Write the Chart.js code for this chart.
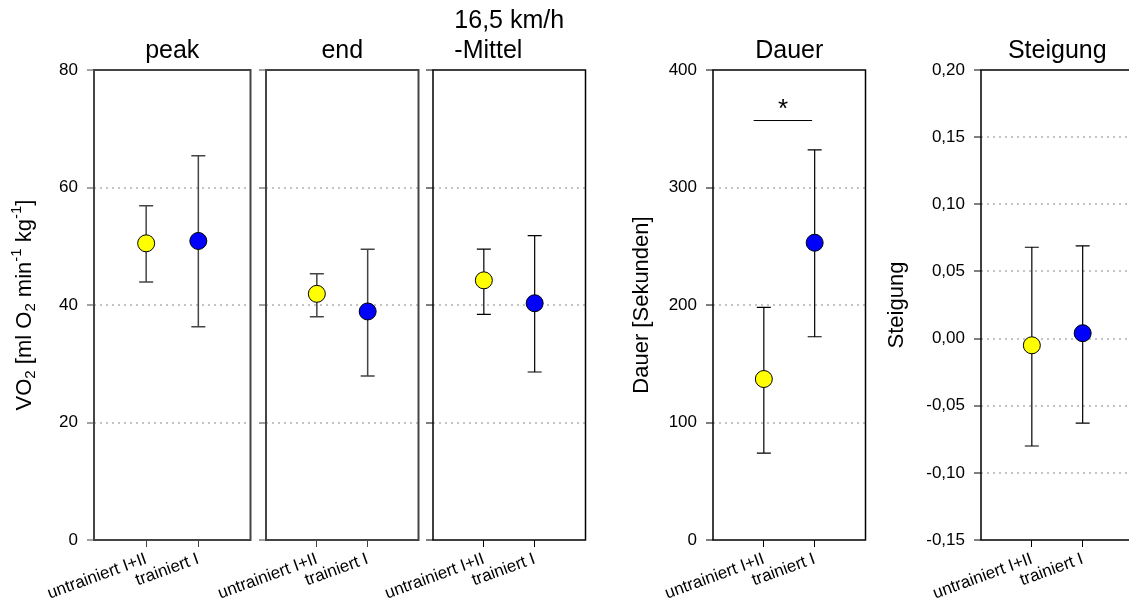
<!DOCTYPE html>
<html>
<head>
<meta charset="utf-8">
<script src="https://cdn.jsdelivr.net/npm/chart.js@4.4.0/dist/chart.umd.min.js"></script>
<style>
  html, body { margin: 0; padding: 0; background: #fff; }
  #wrap { position: relative; width: 1129px; height: 608px; overflow: hidden; }
  #wrap canvas { position: absolute; top: 0; }
</style>
</head>
<body>
<div id="wrap">
  <canvas id="peak"></canvas>
  <canvas id="end"></canvas>
  <canvas id="mittel"></canvas>
  <canvas id="dauer"></canvas>
  <canvas id="steigung"></canvas>
</div>
<script>
// Data
const categories = ['untrainiert I+II', 'trainiert I'];
const pointColors = ['#ffff00', '#0000ff'];

const peakMean = [50.5, 50.9];
const peakLow = [43.9, 36.3];
const peakHigh = [56.9, 65.4];

const endMean = [41.9, 38.9];
const endLow = [38.0, 27.9];
const endHigh = [45.3, 49.5];

const mittelMean = [44.2, 40.3];
const mittelLow = [38.4, 28.6];
const mittelHigh = [49.5, 51.8];

const dauerMean = [137, 253];
const dauerLow = [74, 173];
const dauerHigh = [198, 332];

const steigungMean = [-0.005, 0.004];
const steigungLow = [-0.080, -0.063];
const steigungHigh = [0.068, 0.069];

const vo2Ticks = [0, 20, 40, 60, 80];
const dauerTicks = [0, 100, 200, 300, 400];
const steigungTicks = [-0.15, -0.10, -0.05, 0, 0.05, 0.10, 0.15, 0.20];

// significance marker in the Dauer panel
const sigBarX = [0.8, 1.95];
const sigBarY = 357;
const sigStar = [1.38, 373];

const FONT = '"Liberation Sans", Arial, Helvetica, sans-serif';
Chart.defaults.font.family = FONT;
Chart.defaults.color = '#000';

// vertical error bars with caps, drawn under the markers
const errorBars = {
    id: 'errorBars',
    beforeDatasetsDraw(chart, args, opts) {
        const ctx = chart.ctx;
        const xs = chart.scales.x, ys = chart.scales.y;
        chart.data.datasets.forEach(ds => {
            if (!ds.errLow) return;
            ds.data.forEach((p, i) => {
                const x = xs.getPixelForValue(p.x);
                const yl = ys.getPixelForValue(ds.errLow[i]);
                const yh = ys.getPixelForValue(ds.errHigh[i]);
                ctx.save();
                ctx.strokeStyle = opts.color;
                ctx.lineWidth = opts.width;
                ctx.beginPath();
                ctx.moveTo(x, yl); ctx.lineTo(x, yh);
                ctx.moveTo(x - 7, yl); ctx.lineTo(x + 7, yl);
                ctx.moveTo(x - 7, yh); ctx.lineTo(x + 7, yh);
                ctx.stroke();
                ctx.restore();
            });
        });
    }
};

// box round the plot area, panel titles, y titles, star
const panelText = {
    id: 'panelText',
    afterDraw(chart, args, opts) {
        const ctx = chart.ctx, a = chart.chartArea;
        ctx.save();
        ctx.strokeStyle = opts.ink;
        ctx.lineWidth = opts.frame;
        ctx.strokeRect(a.left, a.top, a.right - a.left, a.bottom - a.top);

        ctx.fillStyle = '#000';
        ctx.font = '25px ' + FONT;
        ctx.textAlign = 'left';
        ctx.textBaseline = 'alphabetic';
        const lines = opts.title;
        const w = Math.max(...lines.map(l => ctx.measureText(l).width));
        const cx = (a.left + a.right) / 2;
        lines.forEach((l, i) => {
            ctx.fillText(l, cx - w / 2, 58 - (lines.length - 1 - i) * 30);
        });

        if (opts.yTitle) {
            const big = '22px ' + FONT, small = '15px ' + FONT;
            const shift = { n: 0, sub: 6, sup: -8 };
            let total = 0;
            opts.yTitle.forEach(([t, k]) => {
                ctx.font = k === 'n' ? big : small;
                total += ctx.measureText(t).width;
            });
            ctx.translate(a.left + opts.yTitleOffset, (a.top + a.bottom) / 2);
            ctx.rotate(-Math.PI / 2);
            ctx.textBaseline = 'middle';
            let x = -total / 2;
            opts.yTitle.forEach(([t, k]) => {
                ctx.font = k === 'n' ? big : small;
                ctx.fillText(t, x, shift[k]);
                x += ctx.measureText(t).width;
            });
            ctx.setTransform(1, 0, 0, 1, 0, 0);
        }

        if (opts.star) {
            ctx.font = '26px ' + FONT;
            ctx.textAlign = 'center';
            ctx.textBaseline = 'alphabetic';
            const sx = chart.scales.x.getPixelForValue(opts.star[0]);
            const sy = chart.scales.y.getPixelForValue(opts.star[1]);
            ctx.fillText('*', sx, sy + 15);
        }
        ctx.restore();
    }
};

function makePanel(id, o) {
    const canvas = document.getElementById(id);
    canvas.width = o.width;
    canvas.height = 608;
    canvas.style.left = o.left + 'px';

    const ticks = o.ticks;
    const lo = ticks[0], hi = ticks[ticks.length - 1];

    const datasets = [{
        data: o.mean.map((v, i) => ({ x: i + 1, y: v })),
        errLow: o.low,
        errHigh: o.high,
        backgroundColor: pointColors,
        borderColor: '#000',
        borderWidth: 1,
        pointRadius: 8.5,
        pointHoverRadius: 8.5,
        pointHoverBorderWidth: 1
    }];
    if (o.sigBar) {
        datasets.push({
            type: 'line',
            data: o.sigBar.x.map(x => ({ x: x, y: o.sigBar.y })),
            borderColor: '#000',
            borderWidth: 1,
            pointRadius: 0,
            fill: false
        });
    }

    new Chart(canvas, {
        type: 'scatter',
        data: { datasets: datasets },
        plugins: [errorBars, panelText],
        options: {
            responsive: false,
            animation: false,
            events: [],
            layout: { padding: { left: 0, right: o.padRight, top: 70, bottom: 0 } },
            plugins: {
                legend: { display: false },
                tooltip: { enabled: false },
                errorBars: { color: o.ink, width: o.barWidth },
                panelText: {
                    ink: o.ink,
                    frame: o.frame,
                    title: o.title,
                    yTitle: o.yTitle,
                    yTitleOffset: o.yTitleOffset,
                    star: o.star
                }
            },
            scales: {
                x: {
                    type: 'linear',
                    min: 0,
                    max: 3,
                    afterBuildTicks: ax => { ax.ticks = categories.map((c, i) => ({ value: i + 1 })); },
                    afterFit: ax => { ax.height = 68; ax.paddingLeft = 0; ax.paddingRight = 0; },
                    ticks: {
                        callback: v => categories[v - 1],
                        minRotation: 20,
                        maxRotation: 20,
                        autoSkip: false,
                        font: { size: 17 },
                        padding: 2
                    },
                    grid: { drawOnChartArea: false, tickLength: 7, tickColor: o.ink, tickWidth: 1 },
                    border: { display: false }
                },
                y: {
                    min: lo,
                    max: hi,
                    afterBuildTicks: ax => { ax.ticks = ticks.map(v => ({ value: v })); },
                    afterFit: ax => { ax.width = o.yWidth; },
                    ticks: {
                        display: o.showLabels,
                        callback: o.fmt,
                        font: { size: 17 },
                        padding: 9
                    },
                    grid: {
                        color: c => (Math.abs(c.tick.value - lo) < 1e-9 || Math.abs(c.tick.value - hi) < 1e-9) ? 'rgba(0,0,0,0)' : '#c4c4c4',
                        lineWidth: 2,
                        tickLength: 7,
                        tickColor: o.ink,
                        tickWidth: 1,
                        tickBorderDash: []
                    },
                    border: { display: false, dash: [2, 4] }
                }
            }
        }
    });
}

const vo2Title = [['VO', 'n'], ['2', 'sub'], [' [ml O', 'n'], ['2', 'sub'], [' min', 'n'], ['-1', 'sup'], [' kg', 'n'], ['-1', 'sup'], [']', 'n']];
const plain = v => String(v);
const comma = v => v.toFixed(2).replace('.', ',');

makePanel('peak', {
    left: 0, width: 260, padRight: 9, yWidth: 94,
    mean: peakMean, low: peakLow, high: peakHigh,
    ticks: vo2Ticks, fmt: plain, showLabels: true,
    title: ['peak'], yTitle: vo2Title, yTitleOffset: -69,
    ink: '#444', frame: 2, barWidth: 1.5
});
makePanel('end', {
    left: 150, width: 278, padRight: 6, yWidth: 116,
    mean: endMean, low: endLow, high: endHigh,
    ticks: vo2Ticks, fmt: plain, showLabels: false,
    title: ['end'],
    ink: '#444', frame: 2, barWidth: 1.5
});
makePanel('mittel', {
    left: 320, width: 275, padRight: 6, yWidth: 113,
    mean: mittelMean, low: mittelLow, high: mittelHigh,
    ticks: vo2Ticks, fmt: plain, showLabels: false,
    title: ['16,5 km/h', '-Mittel'],
    ink: '#000', frame: 1.5, barWidth: 1.2
});
makePanel('dauer', {
    left: 600, width: 275, padRight: 6, yWidth: 113,
    mean: dauerMean, low: dauerLow, high: dauerHigh,
    ticks: dauerTicks, fmt: plain, showLabels: true,
    title: ['Dauer'], yTitle: [['Dauer [Sekunden]', 'n']], yTitleOffset: -71,
    sigBar: { x: sigBarX, y: sigBarY }, star: sigStar,
    ink: '#000', frame: 1.5, barWidth: 1.2
});
makePanel('steigung', {
    left: 880, width: 263, padRight: 6, yWidth: 101,
    mean: steigungMean, low: steigungLow, high: steigungHigh,
    ticks: steigungTicks, fmt: comma, showLabels: true,
    title: ['Steigung'], yTitle: [['Steigung', 'n']], yTitleOffset: -84,
    ink: '#000', frame: 1.5, barWidth: 1.2
});
</script>
</body>
</html>
